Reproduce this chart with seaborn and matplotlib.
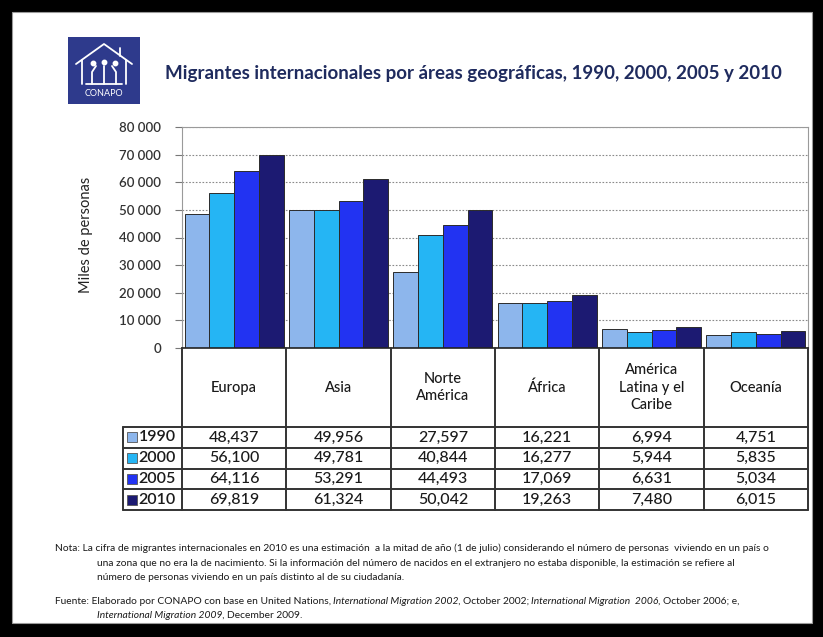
import matplotlib
matplotlib.use("Agg")
import numpy as np
import pandas as pd
import matplotlib.pyplot as plt
from matplotlib.patches import Rectangle
from matplotlib.lines import Line2D
import seaborn as sns

# data (miles de personas)
regions = ["Europa", "Asia", "Norte\nAmérica", "África", "América\nLatina y el\nCaribe", "Oceanía"]
years = ["1990", "2000", "2005", "2010"]
v1990 = [48437, 49956, 27597, 16221, 6994, 4751]
v2000 = [56100, 49781, 40844, 16277, 5944, 5835]
v2005 = [64116, 53291, 44493, 17069, 6631, 5034]
v2010 = [69819, 61324, 50042, 19263, 7480, 6015]
bar_colors = ["#8DB6EC", "#25B5F4", "#2233F2", "#1C1A72"]
yticks = [0, 10000, 20000, 30000, 40000, 50000, 60000, 70000, 80000]

title = "Migrantes internacionales por áreas geográficas, 1990, 2000, 2005 y 2010"
ylabel = "Miles de personas"

series = {"1990": v1990, "2000": v2000, "2005": v2005, "2010": v2010}
df = pd.DataFrame([(r, y, v) for y in years for r, v in zip(regions, series[y])],
                  columns=["region", "year", "value"])

W, H = 823, 637
def fx(x):
    return x / W
def fy(y):
    return 1 - y / H

sns.set_style("white")
plt.rcParams["font.family"] = ["Lato", "DejaVu Sans"]

fig = plt.figure(figsize=(W / 100, H / 100), dpi=100)
fig.patch.set_facecolor("black")
fig.add_artist(Rectangle((fx(12), fy(623)), fx(812) - fx(12), (623 - 12) / H,
                         transform=fig.transFigure, facecolor="white", edgecolor="#9a9a9a", lw=0.8, zorder=0))

# logo
fig.add_artist(Rectangle((fx(68), fy(104)), fx(140) - fx(68), (104 - 37) / H,
                         transform=fig.transFigure, facecolor="#2E3A8C", edgecolor="none", zorder=1))
house = [
    ([76, 104, 132], [64, 44, 64]),
    ([82, 82], [60, 84]),
    ([126, 126], [60, 84]),
    ([120, 120], [48, 56]),
    ([92, 92, 96], [84, 72, 66]),
    ([104, 104], [84, 66]),
    ([116, 116, 112], [84, 72, 66]),
    ([86, 122], [84, 84]),
]
for xs, ys in house:
    fig.add_artist(Line2D([fx(x) for x in xs], [fy(y) for y in ys], transform=fig.transFigure,
                          color="white", lw=1.3, zorder=2))
for cx, cy in [(93, 63), (104, 62), (115, 63)]:
    fig.add_artist(Line2D([fx(cx)], [fy(cy)], transform=fig.transFigure, marker="o",
                          markersize=3.2, color="white", zorder=2))
fig.text(fx(104), fy(94), "CONAPO", color="white", fontsize=6.5, ha="center", va="center", zorder=3)

fig.text(fx(165), fy(73), title, fontsize=13.5, fontweight="bold", color="#1F2B5E", va="center", ha="left")

# bar chart
ax = fig.add_axes([fx(182), fy(348), fx(808) - fx(182), (348 - 127) / H])
sns.barplot(data=df, x="region", y="value", hue="year", order=regions, hue_order=years,
            palette=bar_colors, saturation=1, width=0.95, edgecolor="#2b2b2b", linewidth=0.7,
            legend=False, ax=ax, errorbar=None)
ax.set_xlim(-0.5, 5.5)
ax.set_ylim(0, 80000)
ax.set_yticks(yticks)
ax.set_yticklabels([f"{v:,}".replace(",", " ") for v in yticks], fontsize=9.5,
                   fontweight="semibold", color="#333333")
ax.tick_params(axis="y", length=5, width=0.8, color="#777777", pad=10, left=True)
ax.tick_params(axis="x", length=0, labelbottom=False)
ax.set_xlabel("")
ax.set_ylabel("")
ax.yaxis.grid(True, linestyle=(0, (1.5, 1.5)), color="#8a8a8a", lw=0.8)
ax.set_axisbelow(True)
for s in ["left", "right", "top"]:
    ax.spines[s].set_color("#9a9a9a")
    ax.spines[s].set_linewidth(0.8)
ax.spines["bottom"].set_color("#222222")
ax.spines["bottom"].set_linewidth(1.2)
fig.text(fx(86), fy(235), ylabel, rotation=90, fontsize=10.5, ha="center", va="center", color="#222222")

# data table
col_w = (808 - 182) / 6
x0 = -0.5 - (182 - 123) / col_w
tab = fig.add_axes([fx(123), fy(510), fx(808) - fx(123), (510 - 348) / H])
tab.set_xlim(x0, 5.5)
tab.set_ylim(510, 348)
tab.axis("off")
head_top, head_bot = 348, 427
row_h = (510 - head_bot) / len(years)
lc, lw = "#333333", 1.4
for i in range(7):
    tab.plot([i - 0.5, i - 0.5], [head_top, 510], color=lc, lw=lw, clip_on=False)
tab.plot([x0, x0], [head_bot, 510], color=lc, lw=lw, clip_on=False)
for k in range(len(years) + 1):
    yy = head_bot + k * row_h
    tab.plot([x0, 5.5], [yy, yy], color=lc, lw=lw, clip_on=False)
for i, r in enumerate(regions):
    tab.text(i, (head_top + head_bot) / 2, r, ha="center", va="center", fontsize=10.5,
             linespacing=1.3, color="#1a1a1a", fontweight="medium")
for k, y in enumerate(years):
    yc = head_bot + (k + 0.5) * row_h
    tab.plot([x0 + 0.09], [yc], marker="s", markersize=6.5, color=bar_colors[k],
             markeredgecolor="#555555", markeredgewidth=0.6, clip_on=False)
    tab.text(x0 + 0.15, yc, y, ha="left", va="center", fontsize=11.5, color="#1a1a1a",
             fontweight="semibold")
    for i, v in enumerate(series[y]):
        tab.text(i, yc, f"{v:,}", ha="center", va="center", fontsize=11.5, color="#1a1a1a",
                 fontweight="medium")

# notes
renderer = fig.canvas.get_renderer()
def runs(x, y, parts, size=7.4):
    for txt, style in parts:
        t = fig.text(fx(x), fy(y), txt, fontsize=size, style=style, va="center", ha="left", color="#1a1a1a")
        x += t.get_window_extent(renderer).width + size * 0.28

runs(55, 548, [("Nota: La cifra de migrantes internacionales en 2010 es una estimación  a la mitad de año (1 de julio) considerando el número de personas  viviendo en un país o", "normal")])
runs(97, 563, [("una zona que no era la de nacimiento. Si la información del número de nacidos en el extranjero no estaba disponible, la estimación se refiere al", "normal")])
runs(97, 578, [("número de personas viviendo en un país distinto al de su ciudadanía.", "normal")])
runs(55, 601, [("Fuente: Elaborado por CONAPO con base en United Nations,", "normal"),
               ("International Migration 2002,", "italic"),
               ("October 2002;", "normal"),
               ("International Migration  2006,", "italic"),
               ("October 2006; e,", "normal")])
runs(97, 615, [("International Migration 2009,", "italic"), ("December 2009.", "normal")])

fig.savefig("out.png", dpi=100, facecolor=fig.get_facecolor())
